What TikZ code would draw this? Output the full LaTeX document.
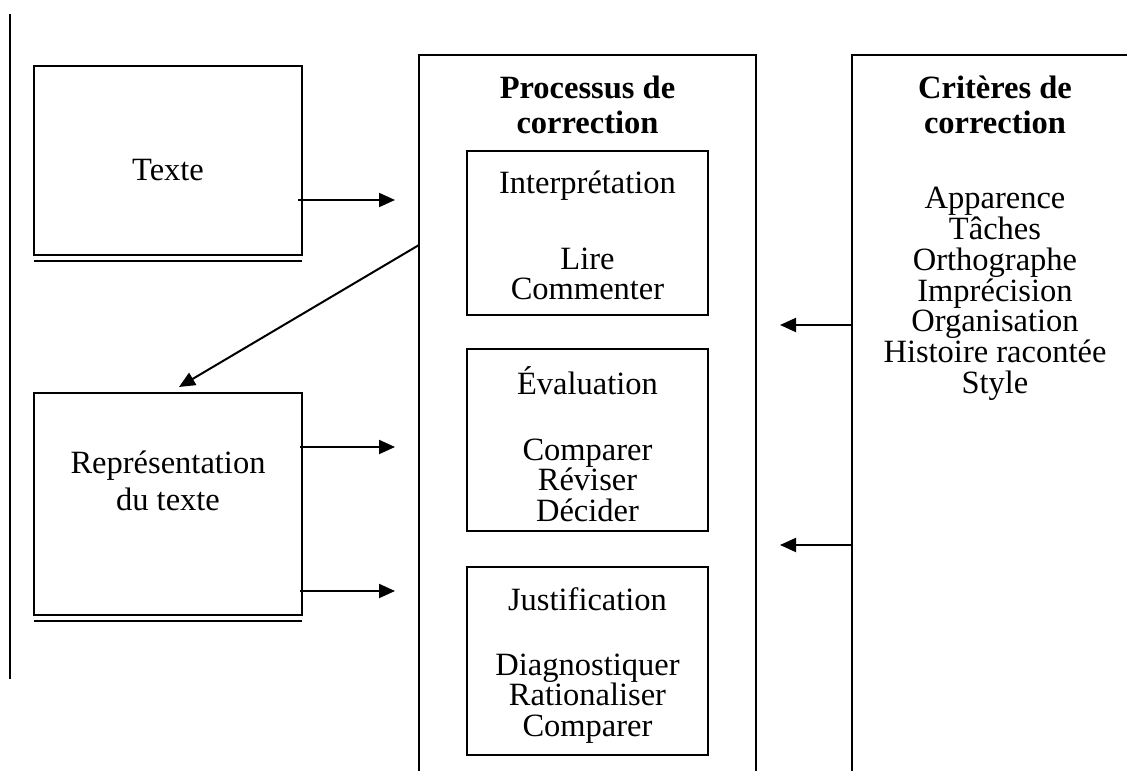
\documentclass[tikz,border=0pt]{standalone}
\usepackage{fontspec}
\setmainfont{Liberation Serif}
\usetikzlibrary{arrows.meta}
\begin{document}
\begin{tikzpicture}[x=0.4pt,y=-0.4pt,
  box/.style={draw, line width=0.9pt, inner sep=0pt, outer sep=0pt, anchor=north west},
  ghost/.style={inner sep=0pt, outer sep=0pt, anchor=north west},
  frame/.style={line width=0.9pt},
  under/.style={line width=0.7pt},
  lbl/.style={font=\fontsize{13}{12.3}\selectfont, inner sep=0pt, align=center},
  hdr/.style={font=\bfseries\fontsize{13}{14}\selectfont, inner sep=0pt, align=center},
  arr/.style={-{Triangle[length=6.4pt,width=5.6pt]}, line width=0.8pt}]
\useasboundingbox (0,0) rectangle (1127,771);
\clip (0,0) rectangle (1127,771);
\fill[white] (0,0) rectangle (1127,771);

% left margin line
\draw[line width=0.8pt] (10,14) -- (10,679);

% left boxes
\node[box, minimum width=107.2pt, minimum height=75.6pt] (texte) at (34,66) {};
\draw[under] ([yshift=-2.4pt]texte.south west) -- ([yshift=-2.4pt]texte.south east);
\node[lbl, anchor=base] (texteL) at (168,181) {Texte};

\node[box, minimum width=107.2pt, minimum height=88.8pt] (repr) at (34,393) {};
\draw[under] ([yshift=-2.4pt]repr.south west) -- ([yshift=-2.4pt]repr.south east);
\node[lbl, font=\fontsize{13}{14.8}\selectfont, anchor=north] (reprL) at (168,450) {Représentation\\du texte};

% process column
\node[ghost, minimum width=134.8pt, minimum height=286.4pt] (proc) at (419,55) {};
\draw[frame] (proc.south west) -- (proc.north west) -- (proc.north east) -- (proc.south east);
\node[hdr, anchor=north] (procL) at (587.5,75) {Processus de\\correction};

\node[box, minimum width=96.4pt, minimum height=65.6pt] (interp) at (467,151) {};
\node[lbl, anchor=base] (interpL) at (587.5,194) {Interprétation};
\node[lbl, anchor=north] (interpT) at (587.5,247) {Lire\\Commenter};

\node[box, minimum width=96.4pt, minimum height=72.8pt] (eval) at (467,349) {};
\node[lbl, anchor=base] (evalL) at (587.5,395) {Évaluation};
\node[lbl, anchor=north] (evalT) at (587.5,438) {Comparer\\Réviser\\Décider};

\node[box, minimum width=96.4pt, minimum height=75.2pt] (just) at (467,567) {};
\node[lbl, anchor=base] (justL) at (587.5,611) {Justification};
\node[lbl, anchor=north] (justT) at (587.5,653) {Diagnostiquer\\Rationaliser\\Comparer};

% criteria column
\node[ghost, minimum width=110pt, minimum height=286.4pt] (crit) at (852,55) {};
\draw[frame] (crit.south west) -- (crit.north west) -- (crit.north east);
\node[hdr, anchor=north] (critL) at (995,75) {Critères de\\correction};
\node[lbl, anchor=north] (critT) at (995,187) {Apparence\\Tâches\\Orthographe\\Imprécision\\Organisation\\Histoire racontée\\Style};

% connectors
\coordinate (r1) at (0,200);
\coordinate (r2) at (0,447);
\coordinate (r3) at (0,591);
\coordinate (d1) at (0,245);
\coordinate (dtip) at (179,387);
\coordinate (c1) at (0,325);
\coordinate (c2) at (0,545);
\draw[arr] ([xshift=-1.6pt]texte.east |- r1) -- ([xshift=-9.6pt]proc.west |- r1);
\draw[arr] ([xshift=-0.8pt]repr.east |- r2) -- ([xshift=-9.6pt]proc.west |- r2);
\draw[arr] ([xshift=-0.8pt]repr.east |- r3) -- ([xshift=-9.6pt]proc.west |- r3);
\draw[arr] (proc.west |- d1) -- (dtip);
\draw[arr] (crit.west |- c1) -- ([xshift=9.6pt]proc.east |- c1);
\draw[arr] (crit.west |- c2) -- ([xshift=9.6pt]proc.east |- c2);
\end{tikzpicture}
\end{document}
